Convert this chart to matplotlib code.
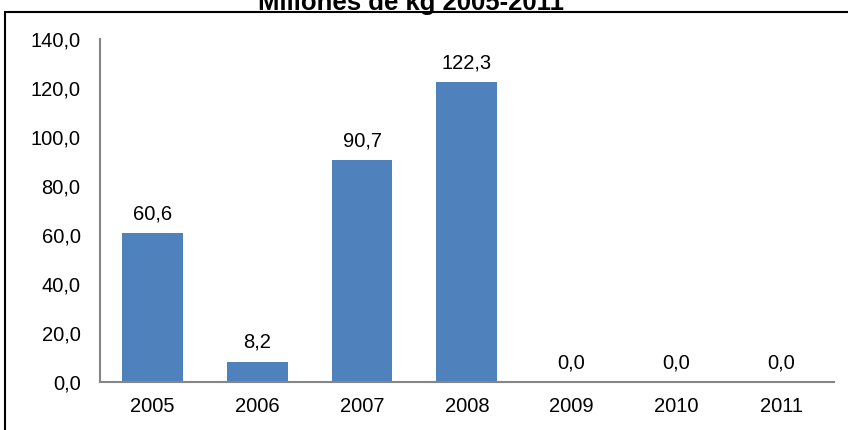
import matplotlib.pyplot as plt
from matplotlib.patches import Rectangle

years = ['2005', '2006', '2007', '2008', '2009', '2010', '2011']
values = [60.6, 8.2, 90.7, 122.3, 0.0, 0.0, 0.0]
yticks = [0, 20, 40, 60, 80, 100, 120, 140]

plt.rcParams['font.family'] = ['Liberation Sans', 'DejaVu Sans']

fig = plt.figure(figsize=(8.48, 4.30), dpi=100)
ax = fig.add_axes([0.118, 0.112, 0.865, 0.797])

x = range(len(years))
bars = ax.bar(x, values, width=0.58, color='#4F81BD')

for xi, v in zip(x, values):
    ax.text(xi, v + 4, f'{v:.1f}'.replace('.', ','), ha='center', va='bottom', fontsize=14.5)

ax.set_xlim(-0.5, len(years) - 0.5)
ax.set_ylim(0, 140)
ax.set_xticks(list(x))
ax.set_xticklabels(years, fontsize=14.5)
ax.set_yticks(yticks)
ax.set_yticklabels([f'{t:.1f}'.replace('.', ',') for t in yticks], fontsize=14.5)
ax.tick_params(length=0)
ax.tick_params(axis='x', pad=11)
ax.tick_params(axis='y', pad=14)

for s in ['top', 'right']:
    ax.spines[s].set_visible(False)
for s in ['left', 'bottom']:
    ax.spines[s].set_color('#868686')
    ax.spines[s].set_linewidth(1.5)

# outer chart frame
fig.patches.append(Rectangle((5 / 848, -0.1), 1.2, 1 - 12 / 430 + 0.1,
                             transform=fig.transFigure, fill=False,
                             edgecolor='black', linewidth=1.5))

fig.text(0.485, 1 - 10 / 430, 'Millones de kg 2005-2011', ha='center', va='baseline',
         fontsize=18.5, fontweight='bold')

fig.savefig('out.png', dpi=100)
